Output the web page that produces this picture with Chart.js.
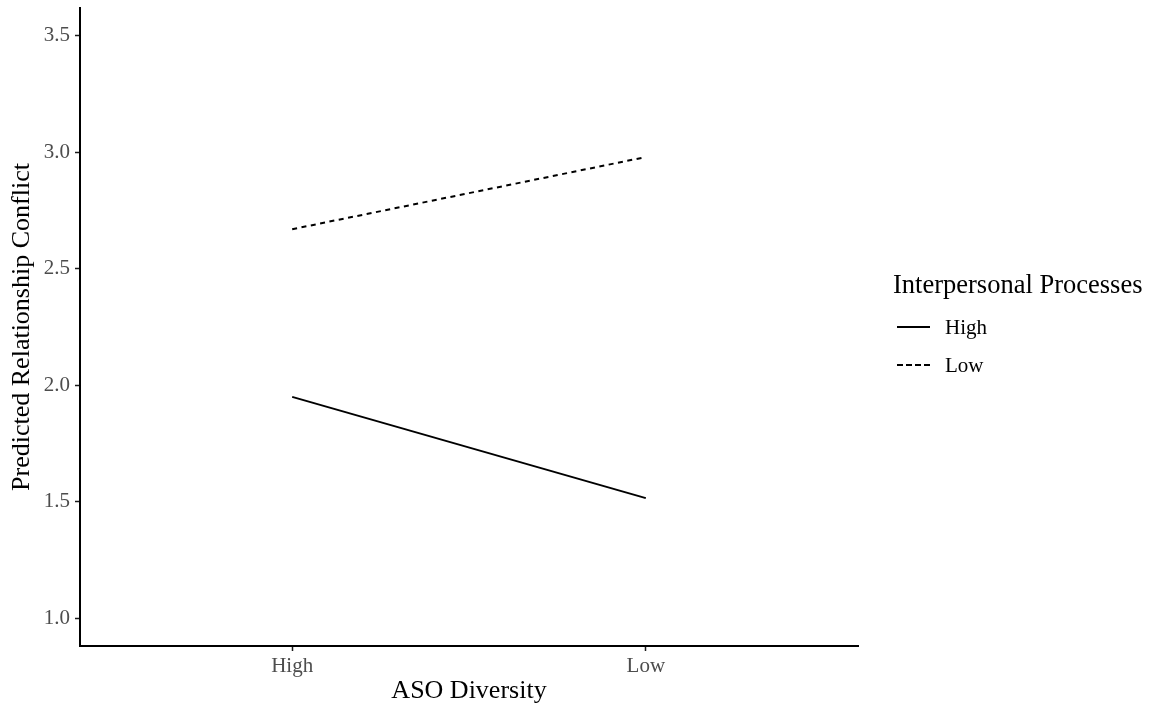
<!DOCTYPE html>
<html>
<head>
<meta charset="utf-8">
<script src="https://cdn.jsdelivr.net/npm/chart.js@4/dist/chart.umd.min.js"></script>
<style>
  html, body { margin: 0; padding: 0; background: #fff; }
  #wrap { position: relative; width: 1157px; height: 707px; }
  #legend { position: absolute; left: 893px; top: 269px; font-family: "Liberation Serif", serif; color: #000; }
  #legend .title { font-size: 26.5px; line-height: 31px; margin-bottom: 8px; white-space: nowrap; }
  #legend .item { display: flex; align-items: center; font-size: 21px; height: 38px; }
  #legend .swatch { width: 33px; margin: 0 15px 0 4px; border-top: 2px solid #000; }
  #legend .swatch.dashed { border-top: 2px dashed #000; }
</style>
</head>
<body>
<div id="wrap">
  <canvas id="chart" width="1157" height="707"></canvas>
  <div id="legend"></div>
</div>
<script>
// ASO Diversity categories (x axis)
const categories = ['High', 'Low'];
// predicted values per Interpersonal Processes level
const highProcesses = [1.95, 1.515];
const lowProcesses = [2.67, 2.98];
const yTicks = [1.0, 1.5, 2.0, 2.5, 3.0, 3.5];

const seriesNames = ['High', 'Low'];
const seriesData = [highProcesses, lowProcesses];
const seriesDash = [[], [5, 4.5]];

const datasets = seriesData.map((vals, i) => ({
    label: seriesNames[i],
    data: vals.map((v, j) => ({ x: j + 1, y: v })),
    borderColor: '#000',
    borderWidth: 2,
    borderDash: seriesDash[i],
    pointRadius: 0,
    fill: false,
    tension: 0
}));

// legend on the right, like ggplot
const legend = document.getElementById('legend');
legend.innerHTML = '<div class="title">Interpersonal Processes</div>' +
    seriesNames.map((n, i) =>
        '<div class="item"><span class="swatch' + (i === 1 ? ' dashed' : '') + '"></span>' + n + '</div>'
    ).join('');

const serif = '"Liberation Serif", serif';
const ctx = document.getElementById('chart').getContext('2d');
new Chart(ctx, {
    type: 'line',
    data: { datasets: datasets },
    options: {
        responsive: false,
        animation: false,
        layout: { padding: { left: 0, right: 299, top: 0, bottom: 0 } },
        plugins: { legend: { display: false }, tooltip: { enabled: false } },
        scales: {
            x: {
                type: 'linear',
                min: 0.4,
                max: 2.6,
                afterBuildTicks: axis => { axis.ticks = categories.map((c, i) => ({ value: i + 1 })); },
                afterFit: axis => { axis.height = 61; axis.paddingTop = 0; },
                ticks: {
                    callback: v => categories[v - 1],
                    color: '#4d4d4d',
                    font: { family: serif, size: 21 },
                    padding: 3
                },
                grid: { drawOnChartArea: false, drawTicks: true, tickLength: 5, color: '#1a1a1a', tickWidth: 1.5 },
                border: { color: '#000', width: 2 },
                title: {
                    display: true,
                    text: 'ASO Diversity',
                    color: '#000',
                    font: { family: serif, size: 26 },
                    padding: { top: 0, bottom: 0 }
                }
            },
            y: {
                min: 0.88,
                max: 3.62,
                afterBuildTicks: axis => { axis.ticks = yTicks.map(v => ({ value: v })); },
                afterFit: axis => { axis.width = 80; axis.paddingTop = 8; axis.paddingBottom = 0; },
                ticks: {
                    callback: v => v.toFixed(1),
                    color: '#4d4d4d',
                    font: { family: serif, size: 21 },
                    padding: 5
                },
                grid: { drawOnChartArea: false, drawTicks: true, tickLength: 5, color: '#1a1a1a', tickWidth: 1.5 },
                border: { color: '#000', width: 2 },
                title: {
                    display: true,
                    text: 'Predicted Relationship Conflict',
                    color: '#000',
                    font: { family: serif, size: 26 },
                    padding: { top: 7, bottom: 0 }
                }
            }
        }
    }
});
</script>
</body>
</html>
